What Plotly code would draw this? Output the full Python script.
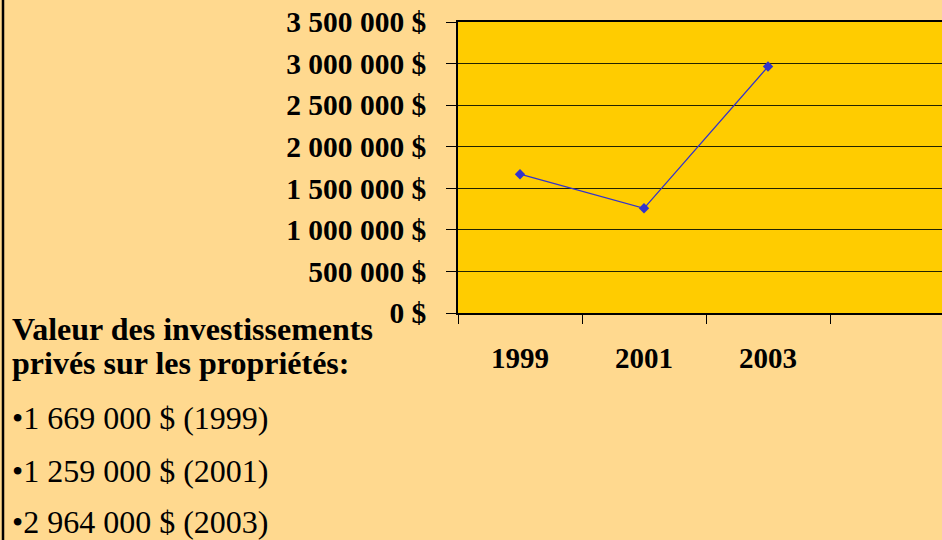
import plotly.graph_objects as go

years = ["1999", "2001", "2003"]
values = [1669000, 1259000, 2964000]
y_ticks = [0, 500000, 1000000, 1500000, 2000000, 2500000, 3000000, 3500000]

title_lines = ["Valeur des investissements", "privés sur les propriétés:"]


def fmt(v):
    return "{:,}".format(v).replace(",", " ") + " $"


y_ticktext = [fmt(v) for v in y_ticks]

W, H = 942, 540
L, R, T, B = 458, 0, 22, 227
PW, PH = W - L - R, H - T - B


def px_x(x):
    return (x - L) / PW


def px_y(y):
    return 1 - (y - T) / PH


fig = go.Figure()
fig.add_trace(go.Scatter(
    x=years, y=values, mode="lines+markers",
    line=dict(color="#3333CC", width=1.3),
    marker=dict(symbol="diamond", size=8, color="#3333CC"),
    showlegend=False, hoverinfo="skip",
))

font_serif = "Liberation Serif, Times New Roman, serif"

fig.update_layout(
    width=W, height=H,
    margin=dict(l=L, r=R, t=T, b=B),
    paper_bgcolor="#FFD98F",
    plot_bgcolor="#FFCC00",
    font=dict(family=font_serif, color="black"),
    xaxis=dict(
        type="category", categoryarray=years, range=[-0.5, 3.403],
        tickson="boundaries", ticks="outside", ticklen=9, tickwidth=1, tickcolor="black",
        showline=True, linecolor="black", linewidth=2, mirror=True,
        showgrid=False, zeroline=False,
        tickfont=dict(size=29, family=font_serif, color="black", weight="bold"),
        ticklabelstandoff=18,
    ),
    yaxis=dict(
        range=[0, 3500000], tickmode="array", tickvals=y_ticks, ticktext=y_ticktext,
        ticks="outside", ticklen=10, tickwidth=1, tickcolor="black",
        showline=True, linecolor="black", linewidth=1.5,
        showgrid=True, gridcolor="#222200", gridwidth=1.2, zeroline=False,
        tickfont=dict(size=29.5, family=font_serif, color="black", weight="bold"),
        ticklabelstandoff=14,
    ),
)

# left frame line
fig.add_shape(type="line", xref="paper", yref="paper", x0=px_x(3), x1=px_x(3),
              y0=px_y(H), y1=px_y(0), line=dict(color="black", width=2.5))

title_y = [329, 363]
for line, ty in zip(title_lines, title_y):
    fig.add_annotation(
        xref="paper", yref="paper", x=px_x(10), y=px_y(ty),
        xanchor="left", yanchor="middle", align="left", showarrow=False,
        text="<b>" + line + "</b>",
        font=dict(size=32, family=font_serif, color="black"),
    )

bullet_y = [418, 471, 522]
for yr, v, by in zip(years, values, bullet_y):
    fig.add_annotation(
        xref="paper", yref="paper", x=px_x(10), y=px_y(by),
        xanchor="left", yanchor="middle", align="left", showarrow=False,
        text="•" + fmt(v) + " (" + yr + ")",
        font=dict(size=32, family=font_serif, color="black"),
    )

fig.write_html("out.html", config={"displayModeBar": False},
               post_script="document.body.style.margin='0';document.body.style.background='#FFD98F';")
